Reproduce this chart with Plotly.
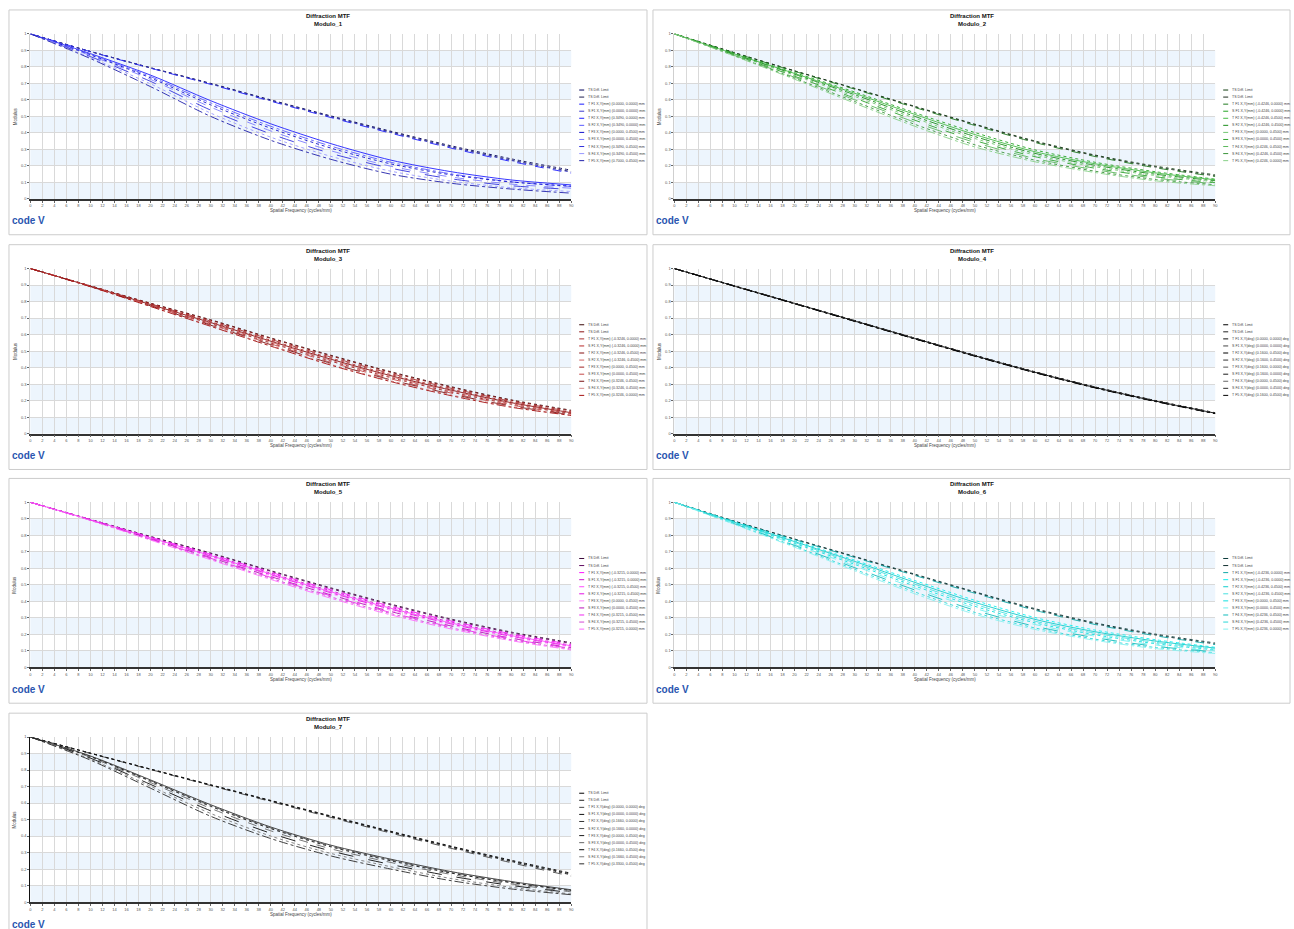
import plotly.graph_objects as go

W, H = 1294, 929

# Spatial frequency samples (cycles/mm) and axis ticks
FREQ = [0, 10, 20, 30, 40, 50, 60, 70, 80, 90]
X_TICKS = list(range(0, 91, 2))
Y_TICKS = [0, 0.1, 0.2, 0.3, 0.4, 0.5, 0.6, 0.7, 0.8, 0.9, 1.0]
Y_TICK_TEXT = ["0", "0.1", "0.2", "0.3", "0.4", "0.5", "0.6", "0.7", "0.8", "0.9", "1"]

PANEL_NAMES = ["Modulo_1", "Modulo_2", "Modulo_3", "Modulo_4", "Modulo_5", "Modulo_6", "Modulo_7"]

# MTF modulus per panel: 11 curves each (diffraction limit T/S, then field T/S curves)
MODULO_1 = [
    [1, 0.893, 0.795, 0.700, 0.600, 0.503, 0.410, 0.322, 0.243, 0.174],
    [1, 0.893, 0.794, 0.698, 0.597, 0.499, 0.405, 0.316, 0.236, 0.166],
    [1, 0.892, 0.792, 0.694, 0.592, 0.493, 0.398, 0.308, 0.227, 0.156],
    [1, 0.893, 0.793, 0.696, 0.595, 0.497, 0.402, 0.313, 0.233, 0.162],
    [1, 0.880, 0.750, 0.595, 0.455, 0.335, 0.235, 0.165, 0.115, 0.085],
    [1, 0.876, 0.741, 0.582, 0.440, 0.320, 0.222, 0.152, 0.104, 0.075],
    [1, 0.872, 0.733, 0.570, 0.428, 0.308, 0.212, 0.146, 0.103, 0.078],
    [1, 0.868, 0.724, 0.556, 0.412, 0.292, 0.198, 0.133, 0.090, 0.065],
    [1, 0.862, 0.712, 0.538, 0.394, 0.276, 0.186, 0.122, 0.080, 0.058],
    [1, 0.856, 0.697, 0.520, 0.374, 0.258, 0.168, 0.108, 0.068, 0.045],
    [1, 0.850, 0.680, 0.500, 0.355, 0.240, 0.150, 0.095, 0.060, 0.035],
]
MODULO_2 = [
    [1, 0.886, 0.776, 0.670, 0.561, 0.453, 0.351, 0.266, 0.199, 0.146],
    [1, 0.885, 0.775, 0.668, 0.558, 0.450, 0.347, 0.262, 0.194, 0.140],
    [1, 0.884, 0.773, 0.665, 0.554, 0.445, 0.342, 0.257, 0.189, 0.136],
    [1, 0.880, 0.765, 0.648, 0.522, 0.402, 0.297, 0.222, 0.165, 0.120],
    [1, 0.878, 0.760, 0.640, 0.512, 0.390, 0.286, 0.213, 0.158, 0.116],
    [1, 0.876, 0.755, 0.631, 0.500, 0.378, 0.276, 0.204, 0.150, 0.110],
    [1, 0.874, 0.749, 0.621, 0.489, 0.366, 0.266, 0.195, 0.142, 0.104],
    [1, 0.872, 0.743, 0.611, 0.477, 0.354, 0.256, 0.186, 0.134, 0.098],
    [1, 0.869, 0.737, 0.601, 0.465, 0.342, 0.245, 0.177, 0.126, 0.092],
    [1, 0.867, 0.731, 0.590, 0.452, 0.328, 0.235, 0.168, 0.118, 0.086],
    [1, 0.865, 0.725, 0.580, 0.440, 0.315, 0.225, 0.160, 0.110, 0.080],
]
MODULO_3 = [
    [1, 0.895, 0.790, 0.690, 0.580, 0.475, 0.375, 0.285, 0.205, 0.142],
    [1, 0.895, 0.789, 0.687, 0.577, 0.471, 0.371, 0.281, 0.202, 0.138],
    [1, 0.894, 0.786, 0.682, 0.571, 0.464, 0.364, 0.275, 0.197, 0.134],
    [1, 0.894, 0.784, 0.678, 0.566, 0.458, 0.358, 0.270, 0.193, 0.130],
    [1, 0.893, 0.782, 0.673, 0.560, 0.451, 0.351, 0.264, 0.188, 0.127],
    [1, 0.893, 0.780, 0.669, 0.555, 0.445, 0.345, 0.258, 0.183, 0.124],
    [1, 0.892, 0.778, 0.665, 0.549, 0.439, 0.339, 0.252, 0.178, 0.121],
    [1, 0.891, 0.776, 0.661, 0.544, 0.432, 0.332, 0.246, 0.173, 0.118],
    [1, 0.891, 0.774, 0.657, 0.539, 0.426, 0.326, 0.240, 0.168, 0.115],
    [1, 0.890, 0.772, 0.654, 0.535, 0.420, 0.320, 0.235, 0.164, 0.112],
    [1, 0.890, 0.770, 0.650, 0.530, 0.415, 0.315, 0.230, 0.160, 0.110],
]
MODULO_4 = [
    [1, 0.895, 0.790, 0.685, 0.579, 0.475, 0.375, 0.283, 0.201, 0.127],
    [1, 0.895, 0.790, 0.684, 0.578, 0.474, 0.374, 0.282, 0.200, 0.126],
    [1, 0.895, 0.789, 0.684, 0.578, 0.473, 0.373, 0.281, 0.199, 0.125],
    [1, 0.894, 0.789, 0.683, 0.577, 0.473, 0.373, 0.281, 0.199, 0.125],
    [1, 0.894, 0.789, 0.683, 0.577, 0.472, 0.372, 0.280, 0.198, 0.124],
    [1, 0.894, 0.788, 0.683, 0.576, 0.472, 0.372, 0.280, 0.198, 0.124],
    [1, 0.894, 0.788, 0.682, 0.576, 0.471, 0.371, 0.279, 0.197, 0.123],
    [1, 0.894, 0.788, 0.682, 0.575, 0.471, 0.371, 0.279, 0.197, 0.123],
    [1, 0.893, 0.787, 0.681, 0.575, 0.470, 0.370, 0.278, 0.196, 0.122],
    [1, 0.893, 0.787, 0.681, 0.574, 0.470, 0.370, 0.278, 0.196, 0.122],
    [1, 0.893, 0.787, 0.680, 0.574, 0.469, 0.369, 0.277, 0.195, 0.121],
]
MODULO_5 = [
    [1, 0.896, 0.793, 0.693, 0.586, 0.482, 0.383, 0.293, 0.214, 0.150],
    [1, 0.896, 0.792, 0.690, 0.582, 0.477, 0.378, 0.288, 0.209, 0.145],
    [1, 0.895, 0.789, 0.685, 0.576, 0.470, 0.370, 0.281, 0.203, 0.139],
    [1, 0.895, 0.787, 0.681, 0.571, 0.464, 0.364, 0.275, 0.198, 0.135],
    [1, 0.894, 0.785, 0.677, 0.566, 0.458, 0.358, 0.269, 0.193, 0.131],
    [1, 0.894, 0.783, 0.673, 0.561, 0.452, 0.352, 0.263, 0.188, 0.127],
    [1, 0.893, 0.781, 0.669, 0.555, 0.446, 0.345, 0.257, 0.183, 0.123],
    [1, 0.892, 0.778, 0.665, 0.550, 0.439, 0.338, 0.251, 0.177, 0.119],
    [1, 0.892, 0.776, 0.661, 0.545, 0.433, 0.332, 0.245, 0.172, 0.115],
    [1, 0.891, 0.774, 0.657, 0.540, 0.427, 0.326, 0.240, 0.168, 0.111],
    [1, 0.890, 0.771, 0.652, 0.533, 0.419, 0.318, 0.233, 0.162, 0.106],
]
MODULO_6 = [
    [1, 0.886, 0.778, 0.672, 0.565, 0.458, 0.356, 0.270, 0.202, 0.148],
    [1, 0.885, 0.776, 0.669, 0.561, 0.454, 0.351, 0.265, 0.197, 0.142],
    [1, 0.884, 0.774, 0.666, 0.557, 0.449, 0.346, 0.260, 0.192, 0.138],
    [1, 0.881, 0.767, 0.650, 0.526, 0.406, 0.302, 0.226, 0.168, 0.122],
    [1, 0.879, 0.762, 0.642, 0.515, 0.394, 0.291, 0.216, 0.160, 0.117],
    [1, 0.877, 0.757, 0.633, 0.504, 0.382, 0.280, 0.207, 0.152, 0.111],
    [1, 0.875, 0.751, 0.624, 0.493, 0.370, 0.270, 0.198, 0.144, 0.105],
    [1, 0.873, 0.745, 0.614, 0.481, 0.358, 0.260, 0.189, 0.136, 0.099],
    [1, 0.870, 0.739, 0.604, 0.469, 0.346, 0.249, 0.180, 0.128, 0.094],
    [1, 0.868, 0.733, 0.594, 0.457, 0.333, 0.239, 0.171, 0.121, 0.089],
    [1, 0.866, 0.728, 0.585, 0.446, 0.322, 0.230, 0.164, 0.114, 0.084],
]
MODULO_7 = [
    [1, 0.902, 0.806, 0.711, 0.616, 0.522, 0.429, 0.339, 0.254, 0.175],
    [1, 0.901, 0.804, 0.708, 0.612, 0.517, 0.423, 0.332, 0.246, 0.165],
    [1, 0.901, 0.803, 0.706, 0.609, 0.513, 0.418, 0.326, 0.239, 0.157],
    [1, 0.902, 0.805, 0.709, 0.614, 0.519, 0.426, 0.336, 0.250, 0.170],
    [1, 0.885, 0.740, 0.590, 0.455, 0.345, 0.260, 0.185, 0.125, 0.075],
    [1, 0.883, 0.736, 0.585, 0.450, 0.340, 0.255, 0.180, 0.120, 0.070],
    [1, 0.881, 0.732, 0.580, 0.445, 0.335, 0.250, 0.176, 0.118, 0.070],
    [1, 0.877, 0.724, 0.568, 0.432, 0.323, 0.240, 0.168, 0.110, 0.062],
    [1, 0.872, 0.713, 0.553, 0.417, 0.310, 0.228, 0.157, 0.101, 0.058],
    [1, 0.866, 0.702, 0.537, 0.400, 0.295, 0.214, 0.143, 0.090, 0.050],
    [1, 0.860, 0.690, 0.520, 0.385, 0.280, 0.200, 0.130, 0.080, 0.045],
]
PANEL_DATA = [MODULO_1, MODULO_2, MODULO_3, MODULO_4, MODULO_5, MODULO_6, MODULO_7]

# Legend labels
LEGEND_1 = ["TS Diff. Limit", "TS Diff. Limit",
            "T F1 X,Y(mm) (0.0000, 0.0000) mm", "S F1 X,Y(mm) (0.0000, 0.0000) mm",
            "T F2 X,Y(mm) (0.3490, 0.0000) mm", "S F2 X,Y(mm) (0.3490, 0.0000) mm",
            "T F3 X,Y(mm) (0.0000, 0.4500) mm", "S F3 X,Y(mm) (0.0000, 0.4500) mm",
            "T F4 X,Y(mm) (0.3490, 0.4500) mm", "S F4 X,Y(mm) (0.3490, 0.4500) mm",
            "T F5 X,Y(mm) (0.7000, 0.4500) mm"]
LEGEND_2 = ["TS Diff. Limit", "TS Diff. Limit",
            "T F1 X,Y(mm) (-0.4246, 0.0000) mm", "S F1 X,Y(mm) (-0.4246, 0.0000) mm",
            "T F2 X,Y(mm) (-0.4246, 0.4500) mm", "S F2 X,Y(mm) (-0.4246, 0.4500) mm",
            "T F3 X,Y(mm) (0.0000, 0.4500) mm", "S F3 X,Y(mm) (0.0000, 0.4500) mm",
            "T F4 X,Y(mm) (0.4246, 0.4500) mm", "S F4 X,Y(mm) (0.4246, 0.4500) mm",
            "T F5 X,Y(mm) (0.4246, 0.0000) mm"]
LEGEND_3 = ["TS Diff. Limit", "TS Diff. Limit",
            "T F1 X,Y(mm) (-0.3246, 0.0000) mm", "S F1 X,Y(mm) (-0.3246, 0.0000) mm",
            "T F2 X,Y(mm) (-0.3246, 0.4500) mm", "S F2 X,Y(mm) (-0.3246, 0.4500) mm",
            "T F3 X,Y(mm) (0.0000, 0.4500) mm", "S F3 X,Y(mm) (0.0000, 0.4500) mm",
            "T F4 X,Y(mm) (0.3246, 0.4500) mm", "S F4 X,Y(mm) (0.3246, 0.4500) mm",
            "T F5 X,Y(mm) (0.3246, 0.0000) mm"]
LEGEND_4 = ["TS Diff. Limit", "TS Diff. Limit",
            "T F1 X,Y(deg) (0.0000, 0.0000) deg", "S F1 X,Y(deg) (0.0000, 0.0000) deg",
            "T F2 X,Y(deg) (0.1600, 0.4500) deg", "S F2 X,Y(deg) (0.1600, 0.4500) deg",
            "T F3 X,Y(deg) (0.1600, 0.0000) deg", "S F3 X,Y(deg) (0.1600, 0.0000) deg",
            "T F4 X,Y(deg) (0.0000, 0.4500) deg", "S F4 X,Y(deg) (0.0000, 0.4500) deg",
            "T F5 X,Y(deg) (0.1600, 0.4500) deg"]
LEGEND_5 = ["TS Diff. Limit", "TS Diff. Limit",
            "T F1 X,Y(mm) (-0.3215, 0.0000) mm", "S F1 X,Y(mm) (-0.3215, 0.0000) mm",
            "T F2 X,Y(mm) (-0.3215, 0.4500) mm", "S F2 X,Y(mm) (-0.3215, 0.4500) mm",
            "T F3 X,Y(mm) (0.0000, 0.4500) mm", "S F3 X,Y(mm) (0.0000, 0.4500) mm",
            "T F4 X,Y(mm) (0.3215, 0.4500) mm", "S F4 X,Y(mm) (0.3215, 0.4500) mm",
            "T F5 X,Y(mm) (0.3215, 0.0000) mm"]
LEGEND_6 = ["TS Diff. Limit", "TS Diff. Limit",
            "T F1 X,Y(mm) (-0.4236, 0.0000) mm", "S F1 X,Y(mm) (-0.4236, 0.0000) mm",
            "T F2 X,Y(mm) (-0.4236, 0.4500) mm", "S F2 X,Y(mm) (-0.4236, 0.4500) mm",
            "T F3 X,Y(mm) (0.0000, 0.4500) mm", "S F3 X,Y(mm) (0.0000, 0.4500) mm",
            "T F4 X,Y(mm) (0.4236, 0.4500) mm", "S F4 X,Y(mm) (0.4236, 0.4500) mm",
            "T F5 X,Y(mm) (0.4236, 0.0000) mm"]
LEGEND_7 = ["TS Diff. Limit", "TS Diff. Limit",
            "T F1 X,Y(deg) (0.0000, 0.0000) deg", "S F1 X,Y(deg) (0.0000, 0.0000) deg",
            "T F2 X,Y(deg) (0.1660, 0.0000) deg", "S F2 X,Y(deg) (0.1660, 0.0000) deg",
            "T F3 X,Y(deg) (0.0000, 0.4500) deg", "S F3 X,Y(deg) (0.0000, 0.4500) deg",
            "T F4 X,Y(deg) (0.1660, 0.4500) deg", "S F4 X,Y(deg) (0.1660, 0.4500) deg",
            "T F5 X,Y(deg) (0.3300, 0.4500) deg"]
PANEL_LEGENDS = [LEGEND_1, LEGEND_2, LEGEND_3, LEGEND_4, LEGEND_5, LEGEND_6, LEGEND_7]

# Line colours per panel
PANEL_COLORS = [
    ["#00005a", "#202050", "#1a1aff", "#3a3acc", "#2020ff", "#5a5aff", "#1010cc",
     "#7c7cff", "#3030dd", "#9898ff", "#2020aa"],
    ["#0f3d0f", "#1e2e1e", "#1f7a1f", "#22a322", "#44bb44", "#1a8c1a", "#70c670",
     "#2ea22e", "#5cb85c", "#3a943a", "#88d088"],
    ["#3a0a0a", "#8b1010", "#a83232", "#b82a2a", "#861010", "#cf6464", "#a02424",
     "#c44848", "#781010", "#d48888", "#a41010"],
    ["#000000", "#222222", "#111111", "#444444", "#000000", "#333333", "#555555",
     "#1a1a1a", "#666666", "#2a2a2a", "#000000"],
    ["#3a0a3a", "#600a60", "#ff10ff", "#d010d0", "#ff48ff", "#e410e4", "#ff88ff",
     "#b810b8", "#f028f0", "#d448d4", "#ff68ff"],
    ["#0a3a3a", "#123030", "#10a8a8", "#10f0f0", "#10cccc", "#48e0e0", "#10e0e0",
     "#70f0f0", "#10bcbc", "#28d8d8", "#88f0f0"],
    ["#000000", "#222222", "#444444", "#111111", "#333333", "#555555", "#1a1a1a",
     "#666666", "#0a0a0a", "#777777", "#2a2a2a"],
]
DASHES = ["dot", "dot", "dash", "dot", "solid", "dashdot", "dot", "dash",
          "longdash", "dot", "dashdot"]

# Panel boxes: (left, top) in pixels
BOX_POS = [(8, 7), (654, 7), (8, 243), (654, 243), (8, 478), (654, 478), (8, 714)]
BOX_W, BOX_H = 640, 226
PLOT_L, PLOT_R, PLOT_T, PLOT_B = 21.5, 564.0, 24.0, 190.0

BAND_COLOR = "#edf5fd"
GRID_COLOR = "#d9d9d9"
TEXT_COLOR = "#444444"
FONT = "Liberation Sans, Arial, sans-serif"


def px(x):
    return x / W


def py(y):
    return 1 - y / H


fig = go.Figure()
shapes = []
annotations = []
layout_axes = {}

for i, (bx, by) in enumerate(BOX_POS):
    n = i + 1
    xa = "x" if n == 1 else f"x{n}"
    ya = "y" if n == 1 else f"y{n}"
    xkey = "xaxis" if n == 1 else f"xaxis{n}"
    ykey = "yaxis" if n == 1 else f"yaxis{n}"

    layout_axes[xkey] = dict(
        domain=[px(bx + PLOT_L), px(bx + PLOT_R)], anchor=ya, range=[0, 90],
        tickmode="array", tickvals=X_TICKS, ticktext=[str(v) for v in X_TICKS],
        tickfont=dict(size=4, color="#555555", family=FONT), tickangle=0,
        ticks="outside", ticklen=2, tickcolor="#666666",
        showgrid=True, gridcolor=GRID_COLOR, gridwidth=1,
        showline=True, linecolor="#333333", linewidth=1.5, zeroline=False,
        fixedrange=True,
    )
    layout_axes[ykey] = dict(
        domain=[py(by + PLOT_B), py(by + PLOT_T)], anchor=xa, range=[0, 1],
        tickmode="array", tickvals=Y_TICKS, ticktext=Y_TICK_TEXT,
        tickfont=dict(size=4, color="#555555", family=FONT),
        ticks="outside", ticklen=2, tickcolor="#666666",
        showgrid=True, gridcolor=GRID_COLOR, gridwidth=1,
        showline=True, linecolor="#111111" if n == 7 else "#cfcfcf",
        linewidth=1.2 if n == 7 else 1, zeroline=False, fixedrange=True,
    )

    # alternating light bands
    for lo in [0.0, 0.2, 0.4, 0.6, 0.8]:
        shapes.append(dict(type="rect", xref=f"{xa} domain", yref=ya,
                           x0=0, x1=1, y0=lo, y1=lo + 0.1, fillcolor=BAND_COLOR,
                           line=dict(width=0), layer="below"))

    # panel frame
    shapes.append(dict(type="rect", xref="paper", yref="paper",
                       x0=px(bx), x1=px(min(bx + BOX_W, W - 1)),
                       y0=py(by + BOX_H), y1=py(by),
                       line=dict(color="#cccccc", width=1), fillcolor="rgba(0,0,0,0)",
                       layer="below"))

    # curves
    colors = PANEL_COLORS[i]
    for k, series in enumerate(PANEL_DATA[i]):
        fig.add_trace(go.Scatter(
            x=FREQ, y=series, mode="lines", xaxis=xa, yaxis=ya,
            name=PANEL_LEGENDS[i][k], showlegend=False,
            line=dict(color=colors[k], width=0.9, dash=DASHES[k],
                      shape="spline", smoothing=0.8),
            hoverinfo="skip",
        ))

    # titles
    annotations.append(dict(
        xref="paper", yref="paper", x=px(bx + BOX_W / 2), y=py(by + 10),
        text=f"<b>Diffraction MTF</b><br><b>{PANEL_NAMES[i]}</b>",
        showarrow=False, xanchor="center", yanchor="middle",
        font=dict(size=6, color="#111111", family=FONT), align="center",
    ))
    annotations.append(dict(
        xref="paper", yref="paper", x=px(bx + (PLOT_L + PLOT_R) / 2), y=py(by + 202),
        text="Spatial Frequency (cycles/mm)", showarrow=False,
        xanchor="center", yanchor="middle",
        font=dict(size=4.5, color=TEXT_COLOR, family=FONT),
    ))
    annotations.append(dict(
        xref="paper", yref="paper", x=px(bx + 6), y=py(by + (PLOT_T + PLOT_B) / 2),
        text="Modulus", showarrow=False, textangle=-90,
        xanchor="center", yanchor="middle",
        font=dict(size=4.5, color=TEXT_COLOR, family=FONT),
    ))
    # logo
    annotations.append(dict(
        xref="paper", yref="paper", x=px(bx + 1), y=py(by + 212),
        text="<b>code V</b>", showarrow=False, xanchor="left", yanchor="middle",
        font=dict(size=10, color="#2a56b0", family=FONT),
    ))

    # compact legend
    for k, label in enumerate(PANEL_LEGENDS[i]):
        ly = by + 80.5 + k * 7.1
        shapes.append(dict(type="line", xref="paper", yref="paper",
                           x0=px(bx + 572), x1=px(bx + 577), y0=py(ly), y1=py(ly),
                           line=dict(color=colors[k], width=1)))
        annotations.append(dict(
            xref="paper", yref="paper", x=px(bx + 579), y=py(ly),
            text=label, showarrow=False, xanchor="left", yanchor="middle",
            font=dict(size=3.6, color=TEXT_COLOR, family=FONT),
        ))

fig.update_layout(
    width=W, height=H, margin=dict(l=0, r=0, t=0, b=0),
    paper_bgcolor="white", plot_bgcolor="white",
    showlegend=False, shapes=shapes, annotations=annotations,
    **layout_axes,
)

fig.write_html("out.html")
